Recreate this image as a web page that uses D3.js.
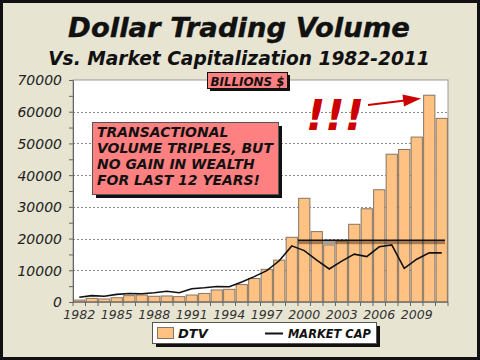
<!DOCTYPE html>
<html><head><meta charset="utf-8">
<script src="https://cdn.jsdelivr.net/npm/d3@7"></script>
<style>html,body{margin:0;padding:0;background:#fff;}svg{display:block;}</style>
</head><body>
<script>
const years = ['1982','1983','1984','1985','1986','1987','1988','1989','1990','1991','1992','1993','1994','1995','1996','1997','1998','1999','2000','2001','2002','2003','2004','2005','2006','2007','2008','2009','2010','2011'];
const dtv = [600,1150,950,1350,2000,2200,1800,1900,1700,2200,2700,3800,4000,5500,7400,10300,13200,20400,32700,22200,18000,19200,24500,29400,35400,46600,48100,52000,65200,57900];
const marketCap = [1480,2000,1800,2400,2700,2600,2900,3400,2900,4200,4500,4900,4800,6300,8000,9900,13000,17700,16200,13200,10400,12900,15100,14300,17400,18000,10600,13500,15500,15500];
const yTicks = [0,10000,20000,30000,40000,50000,60000,70000];
const xLabelYears = ['1982','1985','1988','1991','1994','1997','2000','2003','2006','2009'];
const bandYears = ['2000','2011'];
const bandValue = [19500];
const titleText = 'Dollar Trading Volume';
const subtitleText = 'Vs. Market Capitalization 1982-2011';
const unitsText = 'BILLIONS $';
const noteLines = ['TRANSACTIONAL','VOLUME TRIPLES, BUT','NO GAIN IN WEALTH','FOR LAST 12 YEARS!'];
const legendLabels = ['DTV','MARKET CAP'];

const W=480,H=360;
const FONT='"DejaVu Sans", Verdana, sans-serif';
const svg=d3.select('body').append('svg').attr('width',W).attr('height',H);

// background
svg.append('rect').attr('width',W).attr('height',H).attr('fill','#E7E4D2');
svg.append('rect').attr('x',1.5).attr('y',1.5).attr('width',477).attr('height',357)
  .attr('fill','none').attr('stroke','#111').attr('stroke-width',3);

function fitText(sel,target){
  const l=sel.node().getComputedTextLength();
  const fs=parseFloat(sel.attr('font-size'));
  sel.attr('font-size',(fs*target/l).toFixed(2));
}

// titles
const t1=svg.append('text').attr('x',239).attr('y',37).attr('text-anchor','middle')
  .attr('font-family',FONT).attr('font-weight','bold').attr('font-style','italic')
  .attr('font-size',24).attr('fill','#111').attr('stroke','#111').attr('stroke-width',0.4).text(titleText);
fitText(t1,342);
const t2=svg.append('text').attr('x',239).attr('y',65).attr('text-anchor','middle')
  .attr('font-family',FONT).attr('font-weight','bold').attr('font-style','italic')
  .attr('font-size',17).attr('fill','#111').text(subtitleText);
fitText(t2,382);

const pLeft=73,pRight=448,pTop=80,pBottom=302;
const x=d3.scaleBand().domain(years).range([pLeft,pRight]).paddingInner(0.1).paddingOuter(0.05);
const xc=d3.scaleBand().domain(years).range([pLeft,pRight]);
const y=d3.scaleLinear().domain([0,70000]).range([pBottom,pTop]);

// plot area
svg.append('rect').attr('x',pLeft).attr('y',pTop).attr('width',pRight-pLeft).attr('height',pBottom-pTop)
  .attr('fill','#fff').attr('stroke','#9a9a9a').attr('stroke-width',1);

// gridlines
svg.append('g').selectAll('line').data(yTicks.filter(d=>d>0&&d<70000)).join('line')
  .attr('x1',pLeft).attr('x2',pRight).attr('y1',d=>Math.round(y(d))+0.5).attr('y2',d=>Math.round(y(d))+0.5)
  .attr('stroke','#888').attr('stroke-dasharray','2,2').attr('stroke-width',1);

// bars
svg.append('g').selectAll('rect').data(years).join('rect')
  .attr('x',d=>x(d)).attr('width',x.bandwidth())
  .attr('y',(d,i)=>y(dtv[i])).attr('height',(d,i)=>pBottom-y(dtv[i]))
  .attr('fill','#FFC283').attr('stroke','#857565').attr('stroke-width',1);

// band
const bx0=xc(bandYears[0]), bx1=xc(bandYears[1])+xc.bandwidth()-3;
svg.append('rect').attr('x',bx0).attr('y',y(bandValue[0])).attr('width',bx1-bx0).attr('height',4)
  .attr('fill','rgba(60,35,10,0.45)');
svg.append('line').attr('x1',bx0).attr('x2',bx1).attr('y1',y(bandValue[0])).attr('y2',y(bandValue[0]))
  .attr('stroke','#111').attr('stroke-width',1.5);

// market cap line
const line=d3.line().x((d,i)=>xc(years[i])+xc.bandwidth()/2).y(d=>y(d));
svg.append('path').datum(marketCap).attr('d',line).attr('fill','none')
  .attr('stroke','#111').attr('stroke-width',1.6);

// y axis
const yAxis=d3.axisLeft(y).tickValues(d3.range(0,70001,5000)).tickSize(4).tickFormat(d=>yTicks.includes(d)?d:'');
const ga=svg.append('g').attr('transform',`translate(${pLeft},0)`).call(yAxis);
ga.select('.domain').attr('stroke','#666');
ga.selectAll('.tick line').attr('stroke','#666');
ga.selectAll('.tick text').attr('font-family',FONT).attr('font-style','italic').attr('font-size',14)
  .attr('fill','#222').attr('x',-11).attr('dy','0.35em');

// x axis
const gx=svg.append('g').attr('transform',`translate(0,${pBottom})`);
gx.append('line').attr('x1',pLeft).attr('x2',pRight).attr('stroke','#666');
gx.selectAll('line.t').data(years.concat(['end'])).join('line').attr('class','t')
  .attr('x1',(d,i)=>pLeft+i*xc.step()).attr('x2',(d,i)=>pLeft+i*xc.step()).attr('y1',0).attr('y2',4).attr('stroke','#666');
gx.selectAll('text').data(xLabelYears).join('text')
  .attr('x',d=>xc(d)+xc.bandwidth()/2).attr('y',17).attr('text-anchor','middle')
  .attr('font-family',FONT).attr('font-style','italic').attr('font-size',12.5).attr('fill','#333').text(d=>d);

// units box
svg.append('rect').attr('x',210).attr('y',75).attr('width',80).attr('height',16).attr('fill','#111');
svg.append('rect').attr('x',207.5).attr('y',72.5).attr('width',80).attr('height',16).attr('fill','#FF8080').attr('stroke','#111');
const ut=svg.append('text').attr('x',247.5).attr('y',85.5).attr('text-anchor','middle')
  .attr('font-family',FONT).attr('font-weight','bold').attr('font-style','italic').attr('font-size',11).attr('fill','#111').text(unitsText);
fitText(ut,74);

// note box
svg.append('rect').attr('x',96).attr('y',126).attr('width',186).attr('height',72).attr('fill','#111');
svg.append('rect').attr('x',92.5).attr('y',122.5).attr('width',186).attr('height',72).attr('fill','#FF8080').attr('stroke','#555');
const nt=svg.append('g').selectAll('text').data(noteLines).join('text')
  .attr('x',97).attr('y',(d,i)=>137+i*16).attr('font-family',FONT).attr('font-weight','bold').attr('font-style','italic')
  .attr('font-size',14).attr('fill','#111').text(d=>d);
const l2=nt.filter((d,i)=>i===1).node().getComputedTextLength();
nt.attr('font-size',(14*176/l2).toFixed(2));

// !!!
const ex=svg.append('text').attr('x',306).attr('y',130).attr('font-family',FONT).attr('font-weight','bold').attr('font-style','italic')
  .attr('font-size',52).attr('fill','#CC0000').text('!!!');
fitText(ex,58);

// arrow
svg.append('line').attr('x1',368).attr('y1',105).attr('x2',405).attr('y2',100.5).attr('stroke','#CC0000').attr('stroke-width',2);
svg.append('path').attr('d','M421,98.5 L402.5,94.5 L404,106.5 Z').attr('fill','#CC0000');

// legend
svg.append('rect').attr('x',156).attr('y',326).attr('width',224).attr('height',21).attr('fill','#111');
svg.append('rect').attr('x',152.5).attr('y',322.5).attr('width',224).attr('height',21).attr('fill','#fff').attr('stroke','#555');
svg.append('rect').attr('x',157.5).attr('y',327.5).attr('width',16).attr('height',11).attr('fill','#FFC283').attr('stroke','#857565');
svg.append('text').attr('x',178).attr('y',338).attr('font-family',FONT).attr('font-weight','bold').attr('font-style','italic')
  .attr('font-size',13).attr('fill','#111').text(legendLabels[0]);
svg.append('line').attr('x1',265).attr('x2',283).attr('y1',333.5).attr('y2',333.5).attr('stroke','#111').attr('stroke-width',2);
const lt=svg.append('text').attr('x',288).attr('y',338).attr('font-family',FONT).attr('font-weight','bold').attr('font-style','italic')
  .attr('font-size',13).attr('fill','#111').text(legendLabels[1]);
fitText(lt,83);
</script>
</body></html>
